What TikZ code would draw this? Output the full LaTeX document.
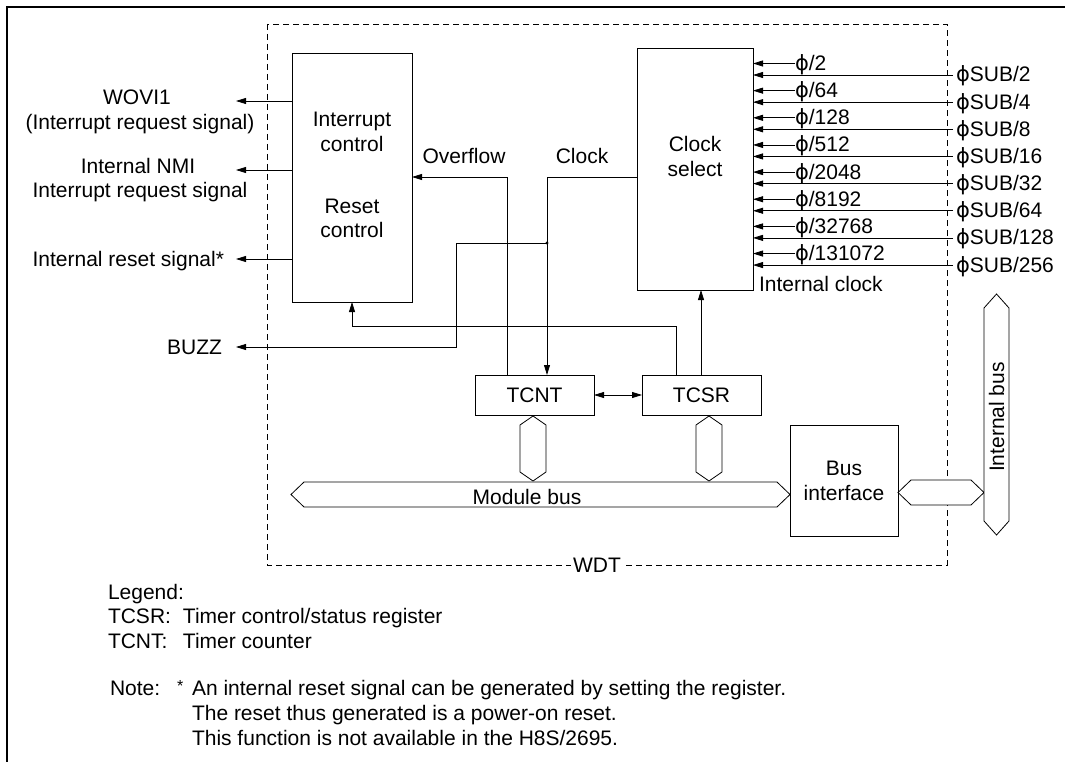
\documentclass[tikz,border=0pt]{standalone}
\usepackage{fontspec}
\setmainfont{Liberation Sans}
\newfontfamily\dejavu{DejaVu Sans}
\usetikzlibrary{arrows.meta}
\newcommand{\ph}{{\dejavu ϕ}}
\begin{document}
\begin{tikzpicture}[x=1pt,y=-1pt,
  font=\fontsize{21}{25}\selectfont,
  box/.style={draw, line width=1pt, inner sep=0pt, outer sep=0pt, anchor=north west},
  lbl/.style={inner sep=0pt, outer sep=0pt},
  wire/.style={line width=0.8pt},
  arr/.style={line width=0.8pt, -{Triangle[length=10pt,width=6pt]}},
  darr/.style={line width=0.8pt, {Triangle[length=10pt,width=6pt]}-{Triangle[length=10pt,width=6pt]}},
  bus/.style={draw, line width=0.8pt, fill=white}]
\useasboundingbox (0,0) rectangle (1065,762);
% outer frame
\draw[line width=2.5pt] (7,775) -- (7,7) -- (1080,7);
% WDT dashed box
\draw[line width=0.8pt, dash pattern=on 6pt off 4pt] (267,24) rectangle (947,565);
\node[lbl, fill=white, inner xsep=2pt] (wdt) at (597,565) {WDT};

% boxes
\node[box, minimum width=120pt, minimum height=248pt] (intbox) at (292,54) {};
\node[lbl, anchor=base] (intt1) at (352,127) {Interrupt};
\node[lbl, anchor=base] (intt2) at (352,152) {control};
\node[lbl, anchor=base] (intt3) at (352,213) {Reset};
\node[lbl, anchor=base] (intt4) at (352,237) {control};

\node[box, minimum width=116pt, minimum height=241pt] (clksel) at (637,49) {};
\node[lbl, anchor=base] (cst1) at (695,152) {Clock};
\node[lbl, anchor=base] (cst2) at (695,177) {select};

\node[box, minimum width=119pt, minimum height=40pt] (tcnt) at (475,375) {};
\node[lbl, anchor=base] (tcntt) at (534.5,402) {TCNT};
\node[box, minimum width=119pt, minimum height=40pt] (tcsr) at (642,375) {};
\node[lbl, anchor=base] (tcsrt) at (701.5,402) {TCSR};

\node[box, minimum width=108pt, minimum height=111pt] (busif) at (790,425) {};
\node[lbl, anchor=base] (busift1) at (844,475) {Bus};
\node[lbl, anchor=base] (busift2) at (844,500) {interface};

% left labels
\node[lbl, anchor=base] (wovi1) at (137,105) {WOVI1};
\node[lbl, anchor=base] (wovi2) at (140,130) {(Interrupt request signal)};
\node[lbl, anchor=base] (nmi1) at (138,174) {Internal NMI};
\node[lbl, anchor=base] (nmi2) at (140,197) {Interrupt request signal};
\node[lbl, anchor=base east] (rst) at (224,266) {Internal reset signal*};
\node[lbl, anchor=base east] (buzz) at (222,354) {BUZZ};

\coordinate (woviT) at (236,101);
\coordinate (nmiT) at (236,170);
\coordinate (rstT) at (236,259);
\coordinate (buzzT) at (236,347);
\draw[arr] (intbox.west |- woviT) -- (woviT);
\draw[arr] (intbox.west |- nmiT) -- (nmiT);
\draw[arr] (intbox.west |- rstT) -- (rstT);

% overflow
\node[lbl, anchor=base] (ovf) at (464,164) {Overflow};
\coordinate (ovfc) at (507,177);
\draw[arr] (tcnt.north -| ovfc) -- (ovfc) -- (intbox.east |- ovfc);
% clock
\node[lbl, anchor=base] (clkl) at (582,164) {Clock};
\coordinate (clkc) at (547,177);
\draw[arr] (clksel.west |- clkc) -- (clkc) -- (tcnt.north -| clkc);
% BUZZ
\coordinate (bzj) at (547,243);
\coordinate (bzc1) at (456,243);
\coordinate (bzc2) at (456,347);
\fill (bzj) circle (1.6pt);
\draw[arr] (bzj) -- (bzc1) -- (bzc2) -- (buzzT);
% reset path
\coordinate (rs1) at (676,326);
\coordinate (rs2) at (352,326);
\draw[arr] (tcsr.north -| rs1) -- (rs1) -- (rs2) -- (intbox.south -| rs2);
% TCSR to clock select
\coordinate (tc) at (701,330);
\draw[arr] (tcsr.north -| tc) -- (clksel.south -| tc);
% TCNT <-> TCSR
\draw[darr] (tcnt.east) -- (tcsr.west);

% clock inputs
\foreach \i/\a/\b in {0/2/2, 1/64/4, 2/128/8, 3/512/16, 4/2048/32, 5/8192/64, 6/32768/128, 7/131072/256} {
  \pgfmathsetmacro\ys{63.5+27.15*\i}
  \pgfmathsetmacro\yl{75+27.15*\i}
  \coordinate (psa\i) at (795,\ys);
  \coordinate (pla\i) at (953,\yl);
  \node[lbl, anchor=base west] (ps\i) at (795,\ys+7) {\ph/\a};
  \node[lbl, anchor=base west] (pl\i) at (956,\yl+7) {\ph SUB/\b};
  \draw[arr] (psa\i) -- (clksel.east |- psa\i);
  \draw[arr] (pla\i) -- (clksel.east |- pla\i);
}
\node[lbl, anchor=base west] (intclk) at (759,291) {Internal clock};

% buses
\draw[bus] (533,416) -- (546,425) -- (546,472) -- (533,481) -- (520,472) -- (520,425) -- cycle;
\draw[bus] (709,416) -- (722,425) -- (722,472) -- (709,481) -- (696,472) -- (696,425) -- cycle;
\draw[bus] (291,494.5) -- (304,482) -- (777,482) -- (790,494.5) -- (777,507) -- (304,507) -- cycle;
\node[lbl, anchor=base] (modbus) at (527,504) {Module bus};
\draw[bus] (898,492.5) -- (911,480) -- (971,480) -- (984,492.5) -- (971,505) -- (911,505) -- cycle;
\draw[bus] (996.5,294) -- (1009,308) -- (1009,521) -- (996.5,535) -- (984,521) -- (984,308) -- cycle;
\node[lbl, rotate=90] (ibus) at (996.5,417) {Internal bus};

% legend and note
\node[lbl, anchor=base west] (leg0) at (108,599) {Legend:};
\node[lbl, anchor=base west] (leg1) at (108,623) {\makebox[75pt][l]{TCSR:}Timer control/status register};
\node[lbl, anchor=base west] (leg2) at (108,648) {\makebox[75pt][l]{TCNT:}Timer counter};
\node[lbl, anchor=base west] (note1) at (110,695) {\makebox[67pt][l]{Note:}\makebox[15pt][l]{\raisebox{4pt}{\fontsize{16}{16}\selectfont *}}An internal reset signal can be generated by setting the register.};
\node[lbl, anchor=base west] (note2) at (192,720) {The reset thus generated is a power-on reset.};
\node[lbl, anchor=base west] (note3) at (192,745) {This function is not available in the H8S/2695.};
\end{tikzpicture}
\end{document}
